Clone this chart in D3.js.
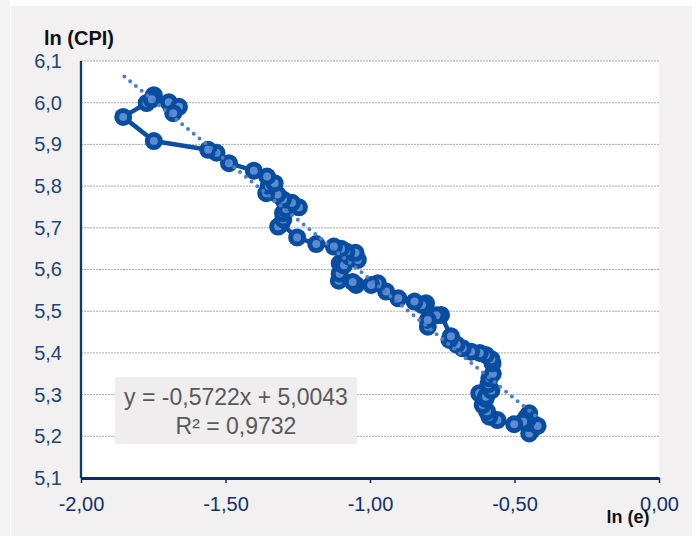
<!DOCTYPE html>
<html>
<head>
<meta charset="utf-8">
<script src="https://cdn.jsdelivr.net/npm/d3@7"></script>
<style>
  html, body { margin: 0; padding: 0; background: #ffffff; }
  svg { display: block; font-family: "Liberation Sans", Arial, sans-serif; }
</style>
</head>
<body>
<svg id="chart" width="698" height="536"></svg>
<script>
// ln(e) – exchange rate, in time order
const lnE = [
  -0.430, -0.440, -0.449, -0.450, -0.449, -0.460, -0.420, -0.455, -0.470, -0.501,
  -0.559, -0.587, -0.595, -0.610, -0.600, -0.622, -0.599, -0.580, -0.590, -0.587,
  -0.575, -0.576, -0.580, -0.599, -0.620, -0.650, -0.679, -0.700, -0.725, -0.720,
  -0.754, -0.770, -0.800, -0.800, -0.806, -0.820, -0.846, -0.902, -0.944, -0.973,
  -0.996, -1.048, -1.060, -1.108, -1.105, -1.105, -1.090, -1.070, -1.042, -1.050,
  -1.082, -1.100, -1.125, -1.186, -1.252, -1.307, -1.318, -1.300, -1.301, -1.290,
  -1.246, -1.270, -1.301, -1.320, -1.359, -1.350, -1.330, -1.356, -1.402, -1.488,
  -1.531, -1.560, -1.748, -1.854, -1.773, -1.748, -1.755, -1.696, -1.661, -1.681
];
// ln(CPI)
const lnCPI = [
  5.228, 5.215, 5.207, 5.232, 5.255, 5.245, 5.225, 5.239, 5.235, 5.229,
  5.239, 5.247, 5.260, 5.275, 5.290, 5.303, 5.295, 5.310, 5.325, 5.339,
  5.350, 5.375, 5.385, 5.395, 5.400, 5.403, 5.411, 5.420, 5.431, 5.440,
  5.491, 5.490, 5.463, 5.479, 5.519, 5.515, 5.523, 5.531, 5.547, 5.567,
  5.563, 5.563, 5.570, 5.573, 5.590, 5.615, 5.610, 5.630, 5.623, 5.640,
  5.643, 5.650, 5.655, 5.661, 5.677, 5.709, 5.703, 5.720, 5.735, 5.745,
  5.749, 5.760, 5.768, 5.780, 5.783, 5.800, 5.807, 5.823, 5.837, 5.855,
  5.880, 5.887, 5.908, 5.966, 5.999, 6.018, 6.008, 6.001, 5.990, 5.975
];

// Linear trend fitted to the series
const slope = -0.5722;
const intercept = 5.0043;
const rSquared = 0.9732;
const trendRange = [-1.85, -0.42];

const xTicks = [-2.0, -1.5, -1.0, -0.5, 0.0];
const yTicks = [5.1, 5.2, 5.3, 5.4, 5.5, 5.6, 5.7, 5.8, 5.9, 6.0, 6.1];

const fmt = (v, d) => v.toFixed(d).replace(".", ",");

const svg = d3.select("#chart");
const W = 698, H = 536;
const plot = { left: 81, right: 659, top: 61, bottom: 478 };

// page background panels
svg.append("rect").attr("x", 0).attr("y", 0).attr("width", 10).attr("height", H).attr("fill", "#f4f3f4");
svg.append("rect").attr("x", 11).attr("y", 6).attr("width", 681).attr("height", H - 6).attr("fill", "#f2f0f1");
svg.append("rect")
  .attr("x", plot.left).attr("y", plot.top)
  .attr("width", plot.right - plot.left).attr("height", plot.bottom - plot.top)
  .attr("fill", "#ffffff");

const x = d3.scaleLinear().domain([-2, 0]).range([plot.left, plot.right]);
const y = d3.scaleLinear().domain([5.1, 6.1]).range([plot.bottom, plot.top]);

// horizontal gridlines
svg.append("g")
  .selectAll("line")
  .data(yTicks.filter(t => t > 5.15))
  .join("line")
  .attr("x1", plot.left).attr("x2", plot.right)
  .attr("y1", d => y(d)).attr("y2", d => y(d))
  .attr("stroke", "#a9a9a9")
  .attr("stroke-width", 1)
  .attr("stroke-dasharray", "2,1");

// y axis (labels only, with a plain axis line)
const yAxis = d3.axisLeft(y).tickValues(yTicks).tickSize(0).tickPadding(19)
  .tickFormat(d => fmt(d, 1));
const gy = svg.append("g").attr("transform", `translate(${plot.left},0)`).call(yAxis);
gy.select(".domain").remove();
gy.selectAll("text")
  .attr("fill", "#1c4675")
  .style("font-size", "20px")
  .style("font-family", "'Liberation Sans', Arial, sans-serif");
svg.append("line")
  .attr("x1", plot.left).attr("x2", plot.left)
  .attr("y1", plot.top).attr("y2", plot.bottom)
  .attr("stroke", "#0f3a6b").attr("stroke-width", 2.3);

// x axis
const xAxis = d3.axisBottom(x).tickValues(xTicks).tickSize(5).tickSizeOuter(0).tickPadding(14)
  .tickFormat(d => fmt(d, 2));
const gx = svg.append("g").attr("transform", `translate(0,${plot.bottom})`).call(xAxis);
gx.select(".domain").attr("stroke", "#0c2a68").attr("stroke-width", 3);
gx.selectAll(".tick line").attr("stroke", "#0c2a68").attr("stroke-width", 1.5);
gx.selectAll("text")
  .attr("fill", "#10306c")
  .style("font-size", "20px")
  .style("font-family", "'Liberation Sans', Arial, sans-serif");

// axis titles
svg.append("text")
  .attr("x", 44).attr("y", 45)
  .attr("font-weight", "bold").attr("font-size", 20)
  .attr("fill", "#111111")
  .text("ln (CPI)");
svg.append("text")
  .attr("x", 628).attr("y", 523)
  .attr("text-anchor", "middle")
  .attr("font-weight", "bold").attr("font-size", 18)
  .attr("fill", "#111111")
  .text("ln (e)");

// series: connected markers
const pts = lnE.map((v, i) => [v, lnCPI[i]]);
svg.append("path")
  .datum(pts)
  .attr("d", d3.line().x(d => x(d[0])).y(d => y(d[1])))
  .attr("fill", "none")
  .attr("stroke", "#0a4fa0")
  .attr("stroke-width", 4.5)
  .attr("stroke-linejoin", "round");

svg.append("g")
  .selectAll("circle")
  .data(pts)
  .join("circle")
  .attr("cx", d => x(d[0]))
  .attr("cy", d => y(d[1]))
  .attr("r", 6.5)
  .attr("fill", "#5b8bd0")
  .attr("stroke", "#084d9f")
  .attr("stroke-width", 5);

// dotted trend line
svg.append("line")
  .attr("x1", x(trendRange[0])).attr("y1", y(slope * trendRange[0] + intercept))
  .attr("x2", x(trendRange[1])).attr("y2", y(slope * trendRange[1] + intercept))
  .attr("stroke", "#4d7fc2")
  .attr("stroke-width", 4)
  .attr("stroke-linecap", "round")
  .attr("stroke-dasharray", "0,7.5");

// equation label
svg.append("rect")
  .attr("x", 115).attr("y", 377)
  .attr("width", 242).attr("height", 67)
  .attr("fill", "#efeded");
const eq = svg.append("text")
  .attr("text-anchor", "middle")
  .attr("fill", "#595959")
  .attr("font-size", 23);
eq.append("tspan").attr("x", 236).attr("y", 405)
  .text(`y = ${fmt(slope, 4)}x + ${fmt(intercept, 4)}`);
eq.append("tspan").attr("x", 236).attr("y", 434)
  .text(`R² = ${fmt(rSquared, 4)}`);
</script>
</body>
</html>
